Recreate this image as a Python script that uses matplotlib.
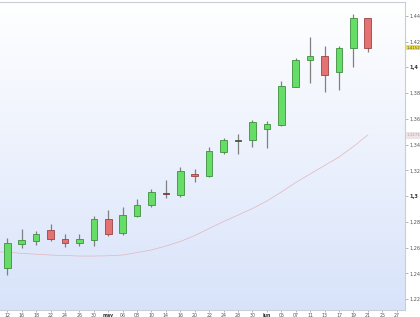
import numpy as np
import matplotlib
matplotlib.use("Agg")
import matplotlib.pyplot as plt
from matplotlib.colors import LinearSegmentedColormap

# ---- data ----
x_labels = ["12", "16", "18", "22", "24", "26", "30", "may", "06", "08", "10", "14", "16", "20",
            "22", "24", "28", "30", "jun", "05", "07", "11", "13", "17", "19", "21", "25", "27"]
opens  = [1.2438, 1.2630, 1.2653, 1.2734, 1.2668, 1.2633, 1.2661, 1.2821, 1.2715, 1.2845,
          1.2930, 1.3023, 1.3010, 1.3173, 1.3155, 1.3344, 1.3430, 1.3437, 1.3518, 1.3554,
          1.3849, 1.4054, 1.4087, 1.3961, 1.4147, 1.4380]
highs  = [1.2671, 1.2741, 1.2728, 1.2780, 1.2705, 1.2705, 1.2847, 1.2891, 1.2917, 1.2977,
          1.3052, 1.3124, 1.3225, 1.3207, 1.3381, 1.3453, 1.3482, 1.3588, 1.3583, 1.3896,
          1.4070, 1.4233, 1.4165, 1.4165, 1.4414, 1.4380]
lows   = [1.2386, 1.2598, 1.2619, 1.2650, 1.2602, 1.2614, 1.2614, 1.2689, 1.2697, 1.2835,
          1.2912, 1.2982, 1.2995, 1.3106, 1.3145, 1.3324, 1.3329, 1.3378, 1.3370, 1.3544,
          1.3844, 1.3875, 1.3810, 1.3823, 1.4004, 1.4121]
closes = [1.2633, 1.2658, 1.2705, 1.2668, 1.2633, 1.2664, 1.2819, 1.2707, 1.2852, 1.2930,
          1.3029, 1.3016, 1.3194, 1.3158, 1.3347, 1.3433, 1.3437, 1.3575, 1.3559, 1.3854,
          1.4056, 1.4087, 1.3942, 1.4147, 1.4380, 1.4152]
# moving average, first value belongs to the candle before the first shown one
ma_values = [1.2569, 1.2563, 1.2555, 1.2548, 1.2542, 1.2538, 1.2534, 1.2534, 1.2536, 1.2542,
             1.2561, 1.2581, 1.2612, 1.2647, 1.2693, 1.2748, 1.2802, 1.2852, 1.2903, 1.2961,
             1.3031, 1.3105, 1.3171, 1.3237, 1.3303, 1.3384, 1.3474]
y_ticks = [1.22, 1.24, 1.26, 1.28, 1.30, 1.32, 1.34, 1.36, 1.38, 1.40, 1.42, 1.44]
y_tick_labels = ["1,22", "1,24", "1,26", "1,28", "1,3", "1,32", "1,34", "1,36", "1,38", "1,4", "1,42", "1,44"]
last_label = "1,4152"
ma_label = "1,3474"

fig = plt.figure(figsize=(4.2, 3.17), dpi=100)
fig.patch.set_facecolor("white")
ax = fig.add_axes([0.0, 0.0221, 0.9643, 0.9716])

xmin, xmax = -0.506, 27.58
ymin, ymax = 1.2115, 1.4507

# gradient background: light blue at bottom, white at top
cmap = LinearSegmentedColormap.from_list("bg", ["#ffffff", "#d8e3fa"])
grad = np.linspace(1, 0, 256).reshape(-1, 1)
ax.imshow(grad, aspect="auto", cmap=cmap, origin="lower",
          extent=[xmin, xmax, ymin, ymax], zorder=0)
ax.set_xlim(xmin, xmax)
ax.set_ylim(ymin, ymax)

n = len(opens)
idx = np.arange(n)
o = np.array(opens); c = np.array(closes); h = np.array(highs); l = np.array(lows)
up = c >= o

# moving average
ma_x = np.arange(-1, n)
ax.plot(ma_x, ma_values, color="#e2b4bd", lw=0.5, zorder=1)

# wicks
ax.vlines(idx, l, h, color="#808080", lw=0.9, zorder=2)

width = 0.46
body_bottom = np.minimum(o, c)
body_h = np.maximum(np.abs(c - o), 0.0004)
doji = np.abs(c - o) < 0.0012
face = []
edge = []
for i in range(n):
    if doji[i]:
        face.append("#9a4a4a" if not up[i] else "#4d6b4d")
        edge.append("#7a3a3a" if not up[i] else "#3d5a3d")
    elif up[i]:
        face.append("#66dd66")
        edge.append("#3f8f3f")
    else:
        face.append("#e57272")
        edge.append("#9a4444")
ax.bar(idx, body_h, width=width, bottom=body_bottom, color=face, edgecolor=edge,
       linewidth=0.6, zorder=3)

# axes styling
ax.spines["left"].set_visible(False)
for s in ["right", "top", "bottom"]:
    ax.spines[s].set_color("#c8cdd8")
    ax.spines[s].set_linewidth(0.8)

ax.yaxis.tick_right()
ax.set_yticks(y_ticks)
ax.set_yticklabels(y_tick_labels)
ax.tick_params(axis="y", length=2, width=0.5, color="#999999", labelsize=3.6,
               labelcolor="#555555", pad=1.5)
for lab in ax.get_yticklabels():
    if lab.get_text() in ("1,3", "1,4"):
        lab.set_fontweight("bold")
        lab.set_color("#333333")

ax.set_xticks(idx.tolist() + [n, n + 1])
ax.set_xticklabels(x_labels)
ax.tick_params(axis="x", length=1.5, width=0.5, color="#999999", labelsize=3.4,
               labelcolor="#555555", pad=1.0)
for lab in ax.get_xticklabels():
    if lab.get_text() in ("may", "jun"):
        lab.set_fontweight("bold")
        lab.set_color("#333333")

# price labels on right axis
ax.text(1.003, (closes[-1] - ymin) / (ymax - ymin), last_label, transform=ax.transAxes,
        fontsize=2.9, color="#555555", va="center", ha="left",
        bbox=dict(boxstyle="square,pad=0.15", facecolor="#f0e040", edgecolor="none"))
ax.text(1.003, (ma_values[-1] - ymin) / (ymax - ymin), ma_label, transform=ax.transAxes,
        fontsize=2.9, color="#aaaaaa", va="center", ha="left",
        bbox=dict(boxstyle="square,pad=0.15", facecolor="#f3e3e6", edgecolor="#dddddd", linewidth=0.4))

fig.savefig("out.png", dpi=100, facecolor="white")
